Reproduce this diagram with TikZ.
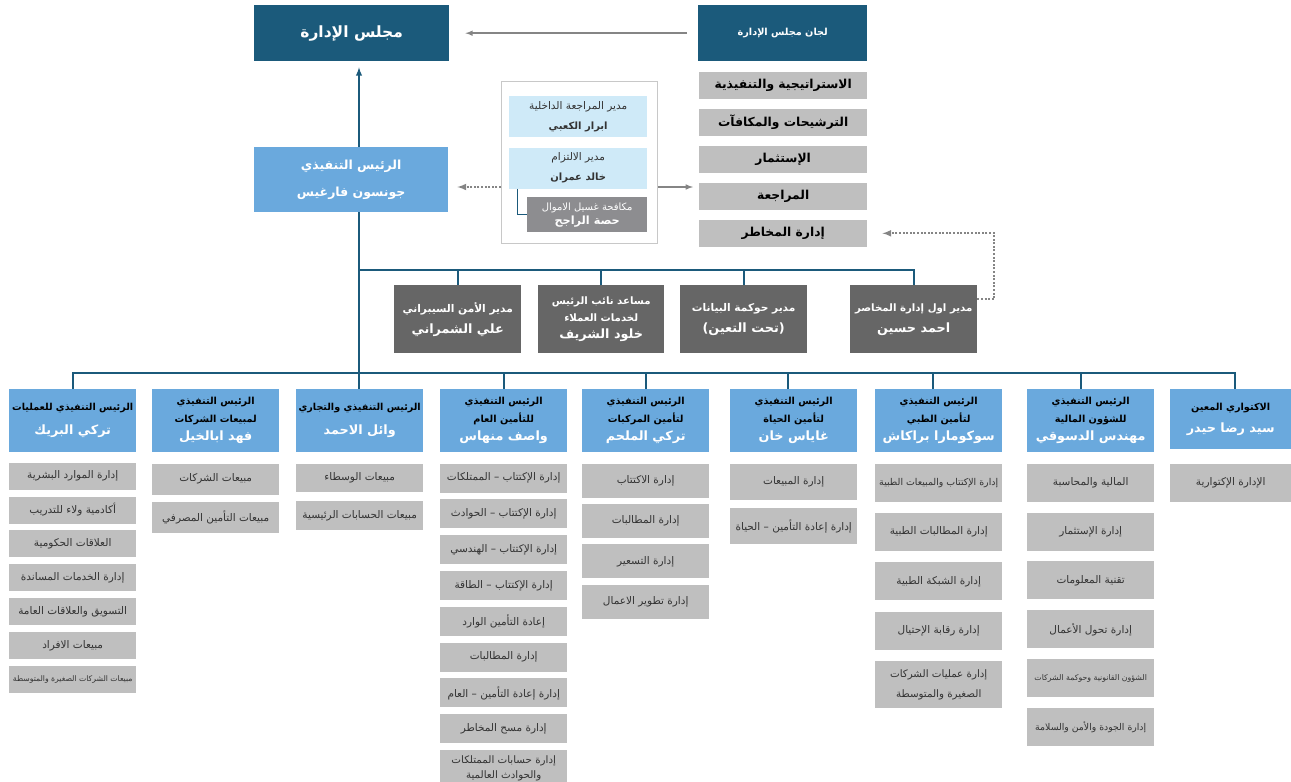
\documentclass[tikz,border=0pt]{standalone}
\usepackage{fontspec}
\newfontfamily\arabicfont[Script=Arabic]{DejaVu Sans}
\usetikzlibrary{arrows,positioning}
\TeXXeTstate=1

\definecolor{boardblue}{HTML}{1B5A7B}
\definecolor{headblue}{HTML}{6AA9DD}
\definecolor{subgray}{HTML}{BFBFBF}
\definecolor{mgrgray}{HTML}{666666}
\definecolor{paleblue}{HTML}{CFEAF8}
\definecolor{amlgray}{HTML}{8D8D90}
\definecolor{framegray}{HTML}{C8C8C8}
\definecolor{arrowgray}{HTML}{858585}
\definecolor{depttext}{HTML}{333333}

\newcommand{\artext}[1]{\beginR #1\endR}
\newcommand{\bigname}[1]{{\bfseries\fontsize{12.8}{20}\selectfont\color{white}\beginR #1\endR}}
\newcommand{\midname}[1]{{\bfseries\fontsize{10}{20}\selectfont\beginR #1\endR}}

\begin{document}
\begin{tikzpicture}[x=1pt,y=-1pt,inner sep=0pt]
    \tikzstyle{board}=[rectangle, fill=boardblue, text=white, anchor=north west, minimum width=195, minimum height=56, font=\arabicfont\bfseries\fontsize{15.5}{18}\selectfont]
    \tikzstyle{committee}=[rectangle, fill=subgray, anchor=north west, minimum width=168, minimum height=27, font=\arabicfont\bfseries\fontsize{12.3}{14}\selectfont]
    \tikzstyle{ceobox}=[rectangle, fill=headblue, text=white, anchor=north west, minimum width=194, minimum height=65, align=center, font=\arabicfont\bfseries\fontsize{12.5}{27}\selectfont]
    \tikzstyle{panel}=[rectangle, draw=framegray, fill=white, line width=1pt, anchor=north west, minimum width=156, minimum height=162]
    \tikzstyle{pale}=[rectangle, fill=paleblue, text=depttext, anchor=north west, minimum width=138, minimum height=41, align=center, font=\arabicfont\fontsize{10.5}{20}\selectfont]
    \tikzstyle{aml}=[rectangle, fill=amlgray, text=white, anchor=north west, minimum width=120, minimum height=35, align=center, font=\arabicfont\fontsize{10}{14}\selectfont]
    \tikzstyle{manager}=[rectangle, fill=mgrgray, text=white, anchor=north west, minimum width=127, minimum height=68, align=center, font=\arabicfont\bfseries\fontsize{10.6}{21}\selectfont]
    \tikzstyle{chief}=[rectangle, fill=headblue, anchor=north west, minimum width=127, minimum height=63, align=center, font=\arabicfont\bfseries\fontsize{9.7}{18}\selectfont]
    \tikzstyle{dept}=[rectangle, fill=subgray, text=depttext, minimum width=127, align=center, font=\arabicfont\fontsize{10.5}{15}\selectfont]
    \tikzstyle{link}=[draw=boardblue, line width=1.8pt]
    \tikzstyle{grayarrow}=[draw=arrowgray, line width=1.5pt, -latex]
    \tikzstyle{dotarrow}=[draw=arrowgray, line width=2pt, dash pattern=on 2pt off 1.6pt, -latex]

    \useasboundingbox (0,0) rectangle (1291,782);

    % board and committees
    \node[board] (board) at (254,5) {\artext{مجلس الإدارة}};
    \node[board, minimum width=169, font=\arabicfont\bfseries\fontsize{9.7}{12}\selectfont] (boardc) at (698,5) {\artext{لجان مجلس الإدارة}};
    \node[committee] (strat) at (699,72) {\artext{الاستراتيجية والتنفيذية}};
    \node[committee, below=9.5pt of strat] (nomin) {\artext{الترشيحات والمكافآت}};
    \node[committee, below=9.5pt of nomin] (invest) {\artext{الإستثمار}};
    \node[committee, below=9.5pt of invest] (audc) {\artext{المراجعة}};
    \node[committee, below=9.5pt of audc] (riskc) {\artext{إدارة المخاطر}};

    % ceo
    \node[ceobox] (ceo) at (254,147) {\artext{الرئيس التنفيذي}\\\artext{جونسون فارغيس}};

    % control functions
    \node[panel] (panel) at (501,81) {};
    \node[pale] (audit) at (509,96) {\artext{مدير المراجعة الداخلية}\\\midname{ابرار الكعبي}};
    \node[pale, below=10pt of audit] (comp) {\artext{مدير الالتزام}\\\midname{خالد عمران}};
    \node[aml] (aml) at (527,197) {\artext{مكافحة غسيل الاموال}\\{\bfseries\fontsize{11.3}{14}\selectfont\artext{حصة الراجح}}};

    % managers
    \node[manager] (cyber) at (394,285) {\artext{مدير الأمن السيبراني}\\\bigname{علي الشمراني}};
    \node[manager, minimum width=126, font=\arabicfont\bfseries\fontsize{10.2}{17}\selectfont] (cust) at (538,285) {\artext{مساعد نائب الرئيس}\\\artext{لخدمات العملاء}\\\bigname{خلود الشريف}};
    \node[manager] (data) at (680,285) {\artext{مدير حوكمة البيانات}\\\bigname{(تحت التعين)}};
    \node[manager, font=\arabicfont\bfseries\fontsize{10.2}{21}\selectfont] (risk) at (850,285) {\artext{مدير اول إدارة المخاصر}\\\bigname{احمد حسين}};

    % chiefs
    \node[chief, font=\arabicfont\bfseries\fontsize{9.6}{24}\selectfont] (ops) at (9,389) {\artext{الرئيس التنفيذي للعمليات}\\\bigname{تركي البريك}};
    \node[chief] (corp) at (152,389) {\artext{الرئيس التنفيذي}\\\artext{لمبيعات الشركات}\\\bigname{فهد ابالخيل}};
    \node[chief, font=\arabicfont\bfseries\fontsize{9.6}{24}\selectfont] (comm) at (296,389) {\artext{الرئيس التنفيذي والتجاري}\\\bigname{وائل الاحمد}};
    \node[chief] (gen) at (440,389) {\artext{الرئيس التنفيذي}\\\artext{للتأمين العام}\\\bigname{واصف منهاس}};
    \node[chief] (motor) at (582,389) {\artext{الرئيس التنفيذي}\\\artext{لتأمين المركبات}\\\bigname{تركي الملحم}};
    \node[chief] (life) at (730,389) {\artext{الرئيس التنفيذي}\\\artext{لتأمين الحياة}\\\bigname{غاياس خان}};
    \node[chief] (med) at (875,389) {\artext{الرئيس التنفيذي}\\\artext{لتأمين الطبي}\\\bigname{سوكومارا براكاش}};
    \node[chief] (fin) at (1027,389) {\artext{الرئيس التنفيذي}\\\artext{للشؤون المالية}\\\bigname{مهندس الدسوقي}};
    \node[chief, minimum width=121, minimum height=60, font=\arabicfont\bfseries\fontsize{9.7}{22}\selectfont] (act) at (1170,389) {\artext{الاكتواري المعين}\\\bigname{سيد رضا حيدر}};

    % operations
    \node[dept, minimum height=27, below=10pt of ops] (ops1) {\artext{إدارة الموارد البشرية}};
    \node[dept, minimum height=27, below=6.5pt of ops1] (ops2) {\artext{أكادمية ولاء للتدريب}};
    \node[dept, minimum height=27, below=6.5pt of ops2] (ops3) {\artext{العلاقات الحكومية}};
    \node[dept, minimum height=27, below=6.5pt of ops3] (ops4) {\artext{إدارة الخدمات المساندة}};
    \node[dept, minimum height=27, below=6.5pt of ops4] (ops5) {\artext{التسويق والعلاقات العامة}};
    \node[dept, minimum height=27, below=6.5pt of ops5] (ops6) {\artext{مبيعات الافراد}};
    \node[dept, minimum height=27, below=6.5pt of ops6, font=\arabicfont\fontsize{7.7}{10}\selectfont] (ops7) {\artext{مبيعات الشركات الصغيرة والمتوسطة}};

    % corporate sales
    \node[dept, minimum height=31, below=11pt of corp] (corp1) {\artext{مبيعات الشركات}};
    \node[dept, minimum height=31, below=7pt of corp1] (corp2) {\artext{مبيعات التأمين المصرفي}};

    % commercial
    \node[dept, minimum height=28, below=11pt of comm] (comm1) {\artext{مبيعات الوسطاء}};
    \node[dept, minimum height=29, below=9pt of comm1] (comm2) {\artext{مبيعات الحسابات الرئيسية}};

    % general insurance
    \node[dept, minimum height=29, below=11pt of gen] (gen1) {\artext{إدارة الإكتتاب – الممتلكات}};
    \node[dept, minimum height=29, below=6.4pt of gen1] (gen2) {\artext{إدارة الإكتتاب – الحوادث}};
    \node[dept, minimum height=29, below=6.4pt of gen2] (gen3) {\artext{إدارة الإكتتاب – الهندسي}};
    \node[dept, minimum height=29, below=6.4pt of gen3] (gen4) {\artext{إدارة الإكتتاب – الطاقة}};
    \node[dept, minimum height=29, below=6.4pt of gen4] (gen5) {\artext{إعادة التأمين الوارد}};
    \node[dept, minimum height=29, below=6.4pt of gen5] (gen6) {\artext{إدارة المطالبات}};
    \node[dept, minimum height=29, below=6.4pt of gen6] (gen7) {\artext{إدارة إعادة التأمين – العام}};
    \node[dept, minimum height=29, below=6.4pt of gen7] (gen8) {\artext{إدارة مسح المخاطر}};
    \node[dept, minimum height=36, below=6.4pt of gen8, font=\arabicfont\fontsize{10.3}{15}\selectfont] (gen9) {\artext{إدارة حسابات الممتلكات}\\\artext{والحوادث العالمية}};

    % motor
    \node[dept, minimum height=34, below=11pt of motor] (motor1) {\artext{إدارة الاكتتاب}};
    \node[dept, minimum height=34, below=6pt of motor1] (motor2) {\artext{إدارة المطالبات}};
    \node[dept, minimum height=34, below=6pt of motor2] (motor3) {\artext{إدارة التسعير}};
    \node[dept, minimum height=34, below=6pt of motor3] (motor4) {\artext{إدارة تطوير الاعمال}};

    % life
    \node[dept, minimum height=36, below=11pt of life] (life1) {\artext{إدارة المبيعات}};
    \node[dept, minimum height=36, below=8pt of life1] (life2) {\artext{إدارة إعادة التأمين – الحياة}};

    % medical
    \node[dept, minimum height=38, below=11pt of med, font=\arabicfont\fontsize{9.4}{12}\selectfont] (med1) {\artext{إدارة الإكتتاب والمبيعات الطبية}};
    \node[dept, minimum height=38, below=11pt of med1] (med2) {\artext{إدارة المطالبات الطبية}};
    \node[dept, minimum height=38, below=11pt of med2] (med3) {\artext{إدارة الشبكة الطبية}};
    \node[dept, minimum height=38, below=11pt of med3] (med4) {\artext{إدارة رقابة الإحتيال}};
    \node[dept, minimum height=47, below=11pt of med4, font=\arabicfont\fontsize{10.3}{20}\selectfont] (med5) {\artext{إدارة عمليات الشركات}\\\artext{الصغيرة والمتوسطة}};

    % finance
    \node[dept, minimum height=38, below=11pt of fin] (fin1) {\artext{المالية والمحاسبة}};
    \node[dept, minimum height=38, below=10.5pt of fin1] (fin2) {\artext{إدارة الإستثمار}};
    \node[dept, minimum height=38, below=10.5pt of fin2] (fin3) {\artext{تقنية المعلومات}};
    \node[dept, minimum height=38, below=10.5pt of fin3] (fin4) {\artext{إدارة تحول الأعمال}};
    \node[dept, minimum height=38, below=10.5pt of fin4, font=\arabicfont\fontsize{7.8}{10}\selectfont] (fin5) {\artext{الشؤون القانونية وحوكمة الشركات}};
    \node[dept, minimum height=38, below=10.5pt of fin5, font=\arabicfont\fontsize{9.3}{12}\selectfont] (fin6) {\artext{إدارة الجودة والأمن والسلامة}};

    % actuarial
    \node[dept, minimum width=121, minimum height=38, below=14pt of act] (act1) {\artext{الإدارة الإكتوارية}};

    % lines
    \coordinate (trunk) at (359,0);
    \coordinate (upbus) at (0,270);
    \coordinate (lowbus) at (0,373);
    \coordinate (side) at (0,187);

    \draw[link,-latex,shorten >=6pt] (ceo.north -| trunk) -- (board.south -| trunk);
    \draw[link] (ceo.south -| trunk) -- (comm.north -| trunk);
    \draw[link] (trunk |- upbus) -| (risk.north);
    \draw[link] (cyber.north) -- (cyber.north |- upbus);
    \draw[link] (cust.north) -- (cust.north |- upbus);
    \draw[link] (data.north) -- (data.north |- upbus);
    \draw[link] (ops.north) |- ([xshift=4pt]act.north |- lowbus) -- ([xshift=4pt]act.north);
    \draw[link] (gen.north) -- (gen.north |- lowbus);
    \draw[link] (motor.north) -- (motor.north |- lowbus);
    \draw[link] ([xshift=-6pt]life.north) -- ([xshift=-6pt]life.north |- lowbus);
    \draw[link] ([xshift=-6pt]med.north) -- ([xshift=-6pt]med.north |- lowbus);
    \draw[link] ([xshift=-10pt]fin.north) -- ([xshift=-10pt]fin.north |- lowbus);
    \draw[link, line width=1pt] ([xshift=-10pt]aml.west |- comp.south) |- (aml.west);

    \draw[grayarrow] ([xshift=-11pt]boardc.west) -- ([xshift=16pt]board.east);
    \draw[grayarrow] (panel.east |- side) -- ([xshift=-6pt]strat.west |- side);
    \draw[dotarrow] (panel.west |- side) -- ([xshift=9pt]ceo.east |- side);
    \draw[dotarrow] ([yshift=20pt]risk.east) -- ++(17,0) |- ([xshift=15pt]riskc.east);
\end{tikzpicture}
\end{document}
